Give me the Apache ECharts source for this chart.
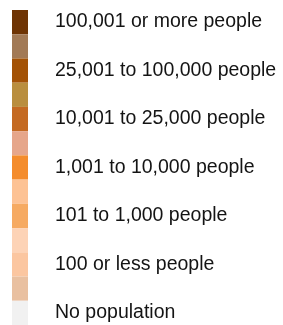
<!DOCTYPE html>
<html>
<head>
<meta charset="utf-8">
<script src="https://cdn.jsdelivr.net/npm/echarts@6/dist/echarts.min.js"></script>
<style>
  html, body { margin: 0; padding: 0; background: #fff; }
  #main { width: 283px; height: 325px; }
</style>
</head>
<body>
<div id="main"></div>
<script>
// legend steps, top to bottom (blank label = in-between colour step)
var labels = ['100,001 or more people', '', '25,001 to 100,000 people', '',
  '10,001 to 25,000 people', '', '1,001 to 10,000 people', '',
  '101 to 1,000 people', '', '100 or less people', '', 'No population'];
var colors = ['#6e3404', '#a27a56', '#a35206', '#b98e3e', '#c46a22', '#e6a68a',
  '#f48c2c', '#fdc294', '#f6aa62', '#fdd3b6', '#fbc6a0', '#e9c0a0', '#f1f1f1'];
var values = [1, 1, 1, 1, 1, 1, 1, 1, 1, 1, 1, 1, 1];

var myChart = echarts.init(document.getElementById('main'));
var option = {
    animation: false,
    grid: { left: 12, width: 16, top: 10, height: 315 },
    xAxis: { type: 'value', min: 0, max: 1, show: false },
    yAxis: {
        type: 'category',
        inverse: true,
        position: 'right',
        data: labels,
        axisLine: { show: false },
        axisTick: { show: false },
        axisLabel: {
            interval: 0,
            margin: 27,
            align: 'left',
            color: '#141414',
            fontFamily: 'Liberation Sans',
            fontSize: 19.5
        }
    },
    series: [{
        type: 'bar',
        barWidth: '100%',
        data: values.map(function (v, i) {
            return { value: v, itemStyle: { color: colors[i] } };
        })
    }]
};
myChart.setOption(option);
</script>
</body>
</html>
